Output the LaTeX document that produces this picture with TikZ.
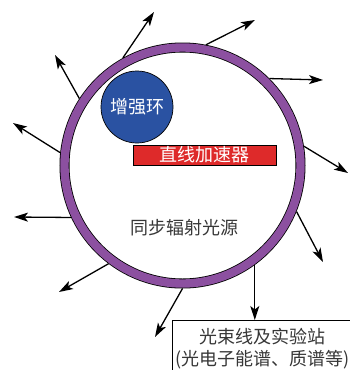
\documentclass[tikz,border=0pt]{standalone}
\usepackage{fontspec}
\newfontfamily\cjk{Noto Sans CJK SC}
\usetikzlibrary{arrows.meta}
\definecolor{ringpurple}{RGB}{140,80,160}
\definecolor{boostblue}{RGB}{42,82,162}
\definecolor{linacred}{RGB}{222,42,42}
\definecolor{labelgray}{RGB}{55,55,55}
\tikzset{
  ray/.style={line width=1.3pt, -{Stealth[length=14pt,width=9pt,inset=3.5pt]}},
  cjktext/.style={font=\cjk\fontsize{18pt}{22pt}\selectfont}
}
\begin{document}
\begin{tikzpicture}[x=1pt,y=-1pt]
\useasboundingbox (0,0) rectangle (350,370);
\fill[white] (0,0) rectangle (350,370);
% storage ring
\node (ring) [circle, minimum size=236pt, inner sep=0pt, outer sep=5pt,
  draw=black, line width=0.8pt, double=ringpurple, double distance=8.4pt] at (182.5,165.5) {};
% booster
\node (boost) [circle, minimum size=72pt, inner sep=0pt, fill=boostblue, draw=black, line width=0.7pt,
  text=white, cjktext] at (137,107) {增强环};
% linac
\node (linac) [rectangle, minimum width=143pt, minimum height=20pt, inner sep=0pt, fill=linacred,
  draw=black, line width=0.7pt, text=white, cjktext] at (204.5,155) {直线加速器};
% label
\node (src) [text=labelgray, cjktext] at (184,228) {同步辐射光源};
% beamline box
\node (box) [anchor=north west, draw=black, line width=0.8pt, fill=white, minimum width=180pt,
  inner xsep=0pt, inner ysep=8pt, align=center, text=labelgray,
  font=\cjk\fontsize{18pt}{21.5pt}\selectfont] at (172,320)
  {光束线及实验站\\(光电子能谱、质谱等)};
% arrow ends
\coordinate (e1) at (154,12);
\coordinate (e2) at (255,20);
\coordinate (e3) at (323,80);
\coordinate (e4) at (348,173);
\coordinate (e5) at (323,262);
\coordinate (e7) at (155,337);
\coordinate (e8) at (59,292);
\coordinate (e9) at (14,217);
\coordinate (e10) at (13,123);
\coordinate (e11) at (55,55);
% rays
\draw[ray] (ring.119) -- (e1);
\draw[ray] (ring.79) -- (e2);
\draw[ray] (ring.45) -- (e3);
\draw[ray] (ring.9) -- (e4);
\draw[ray] (ring.-22) -- (e5);
\draw[ray] (ring.-54) -- (ring.-54 |- box.north);
\draw[ray] (ring.-90) -- (e7);
\draw[ray] (ring.-127) -- (e8);
\draw[ray] (ring.-155) -- (e9);
\draw[ray] (ring.174) -- (e10);
\draw[ray] (ring.147) -- (e11);
\end{tikzpicture}
\end{document}
